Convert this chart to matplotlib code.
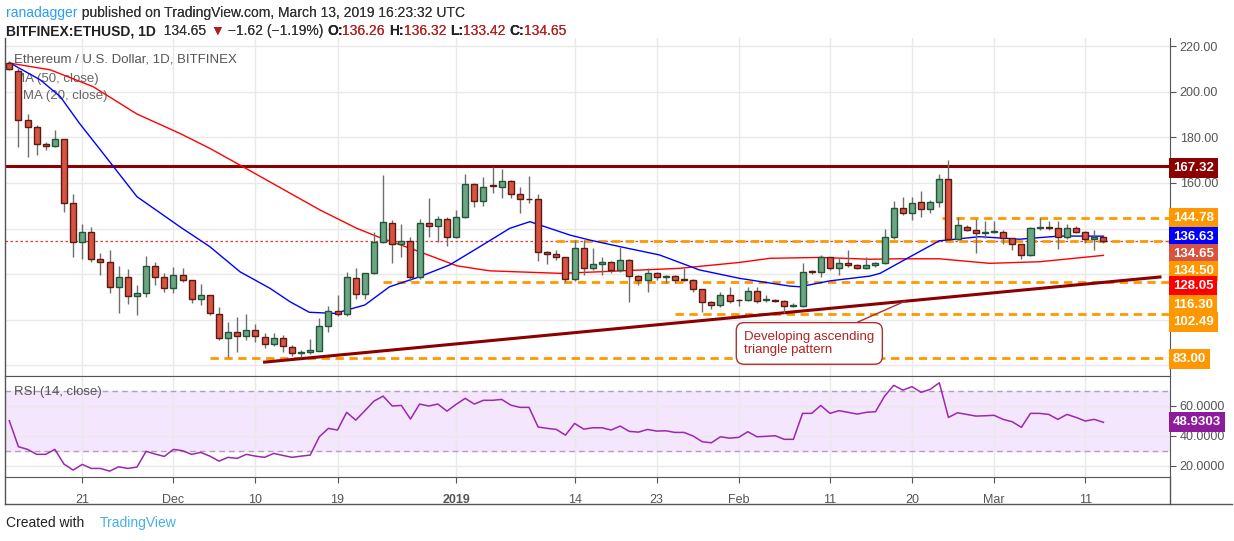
import matplotlib
matplotlib.use("Agg")
import matplotlib.pyplot as plt
import numpy as np

opens = [212.9,209,187.7,184.5,177,176.1,179.2,151.1,133.9,138.3,126.5,125.1,114.5,118.5,110.5,111.5,123.6,118.5,113.7,119.4,
 117.2,109.2,110.6,102.3,91.7,94.6,92.9,95.6,92.2,89.1,91.7,88,85.4,85.6,86.3,97.1,103.9,102.3,118.1,111.1,
 120.3,133.9,142.3,133,134.5,118.5,142.3,141,144,136.1,144.9,159.4,152.3,159,158.4,160.8,155.1,152.9,152.8,129.5,
 128.7,127.3,117.7,131.3,122.5,124.3,125.3,121.9,126.2,119.2,117.4,120.3,118.7,119,117.4,117.4,113.3,107.6,106.3,110.7,
 108.5,108.5,112.4,108.5,108.3,108.2,106,106,121.2,121,127.3,122.5,124.8,123.8,122.6,123.9,124.8,136.1,148.9,146.7,
 151.5,148.6,151.5,161.6,135.3,140.8,139.3,138.1,138.4,138.5,135.7,133.1,128.2,140.3,140.5,140.1,136.1,140.1,138.5,135.3,136.26]
highs = [213.5,211,190.3,185.5,178.2,183.3,179.5,155.2,142,140.5,129.1,130.6,123.5,122.1,115.2,127.9,125.4,120.3,122.9,122.5,
 117.5,115.6,111,105.6,99.1,101,102.4,98,93.9,93.9,93.2,89,86.5,91.4,100.5,106.1,110.8,120.7,122.5,120.6,
 138.6,163.5,143.7,142,136.1,144,153.3,145.5,145,148.1,163.9,160,162.5,167.2,166,161.2,158.4,163.1,155.2,130,
 130.5,127.5,134.9,134.9,131.3,127.3,125.8,132,126.8,119.6,122.5,121,119.5,119.5,122.5,117.7,113.6,108,112.2,114.4,
 109,114.4,114.4,110.8,109,108.5,107.1,124.7,121.8,128.2,127.6,126.9,130.5,124.2,127.3,125.5,139.6,152.2,153.7,154,
 156.5,152.5,163.9,170.1,145.2,141.5,144,143.4,143.4,139.3,136,133.4,140.8,144.5,143.4,143.4,142,141.1,139,139.3,136.32]
lows = [209.5,175.7,171.6,172.3,174.5,176,147.4,127.3,126.4,125.4,119.6,111.5,103,106.8,102,110,115.2,111.9,111.8,116.3,
 107.1,106.6,102,91,83.4,85.9,91,90.3,87.3,88.3,85.9,84,83.7,85,86,94.6,101.7,101.7,108.9,109.2,
 120,133.5,124.7,127.6,117.1,117.7,136.4,134.2,132.3,135.7,144.5,149.6,150,155.5,153.3,153.3,146.7,151.4,125.9,124.4,
 126.1,116.6,117,119.6,121.8,119.6,120.3,121,107.8,115.2,112.2,117.4,115.9,115.9,117,112.2,103.4,104.5,105.3,107.4,
 105.9,108,107.1,107.8,107.5,102.7,105.5,105.5,120,118.5,121.8,119.6,123.3,122,122,123,124.5,135.5,145.9,143.7,
 145.2,146.7,149.3,135,135,139,129.1,135.7,138,133.2,130.5,126.4,128,139.5,139.5,131,135.5,138,133.8,130.5,133.42]
closes = [210,187.7,184.5,177.1,176.1,179.2,151.1,133.9,138.3,126.5,125.1,114.5,118.5,110.5,111.5,123.6,118.5,113.7,119.4,117.2,
 108.9,110.6,102.7,91.7,94.6,92.9,95.6,92.7,89.1,91.7,88.4,85.1,85.6,86.6,97.1,103.9,102.3,118.5,111.1,120.3,
 133.9,142.7,133,134.5,118.5,142.3,141,144,136.1,144.9,159.4,152.3,158.4,158.5,160.8,155.1,152.9,152.8,129.5,128.7,
 127.3,117.7,131.3,122.5,124.3,125.3,121.9,126.2,119.2,117.4,120.3,118.5,118.9,117.4,117.3,113.3,107.6,106.3,110.7,108.3,
 108.4,112.4,108.3,108.6,108.2,105.8,106.1,121,121,127.3,122.5,124.8,123.8,122.6,123.9,124.8,136.1,148.9,146.7,151.3,
 148.6,151.5,161.6,135.3,141.4,139.3,137.9,138.2,138.5,135.7,133.1,128.2,140.1,140.5,140.1,136.1,140.1,138.5,135.3,136.1,134.65]

ma50_x = [0,4.5,9.2,14,18.7,22,25.6,30.8,34.1,36.3,38.1,40.6,45,49.1,52.7,60.4,64.8,73.5,80.1,83.4,88.9,94.4,97.7,102,107.5,113,120]
ma50_y = [212.7,209.7,202.3,190.3,181.8,175.2,167.2,155.5,148.1,143.7,140.1,136.1,129.8,123.6,121.4,120.3,121,122.5,125.1,126.9,127.3,126.5,126.7,126.7,124.7,125.4,128.2]
ema20_x = [0,3.4,5.6,7.7,10,14,18.7,22,25.3,28.6,30.8,32.9,35.7,39,41.7,45,48.3,51.6,54.9,57.1,61.5,63.7,67,71.3,75.7,80.1,85.6,86.7,90,94.4,95.5,98.8,102,106.4,110.8,115.2,120]
ema20_y = [212.9,205.3,197.9,186.2,174.5,154,140.8,132,121,113.7,107.8,103.2,102.7,106.4,114.4,118.8,124,132,140.1,143,137.1,134.9,132,128.4,121.8,118.1,114.7,114.4,117,119.1,120.3,127.6,134.6,136.4,135.3,136.7,136.63]

rsi = [50,32.7,30.9,27.6,27.6,30.9,21.1,17.1,20.9,18.2,18.2,16.4,19.3,18.2,19.1,29.6,27.8,26.2,30.9,30,
 27.6,28.9,26.4,23.1,25.6,24.9,27.6,26.4,25.6,28.2,26.9,25.6,26.4,27.1,39.3,44.9,43.8,55.6,50.4,56.7,
 63.1,66.4,59.8,60.2,51.1,61.1,59.8,61.1,56.4,60.9,64.9,61.1,63.6,63.6,64.2,60.4,58.9,58.9,45.8,44.9,
 44.2,40.4,48.2,44.4,45.3,45.3,43.8,46.4,42.9,42.4,44.2,43.1,43.3,42.2,42.2,39.8,36,35.3,39.3,38.4,
 38.9,42.7,39.3,39.6,40,37.6,37.6,54.9,54.9,60.2,54.9,56.7,55.6,54.4,55.6,56,66.4,73.6,70.4,72.7,
 68.9,70.9,75.3,52.2,55.3,54.2,53.1,53.3,53.6,50.9,49.3,45.6,54.9,54.9,54.2,50.9,54.2,52.2,49.8,50.9,48.93]

date_ticks = [8,18,27,36,49,62,71,80,90,99,108,118]
date_labels = ["21","Dec","10","19","2019","14","23","Feb","11","20","Mar","11"]

resistance = 167.32
levels = [144.78, 134.50, 116.30, 102.49, 83.00]
level_start = [102.3, 60, 41, 73, 22]
trend_x = [28.0, 126.2]
trend_y = [81.3, 118.7]

UP, UPE = "#6ba583", "#225437"
DN, DNE = "#d75442", "#5b1a13"
GRID = "#e9e9e9"

fig = plt.figure(figsize=(12.34, 5.41), dpi=100)
plt.rcParams['font.family'] = ['Liberation Sans', 'DejaVu Sans']
ax = fig.add_axes([5/1234, (541-376)/541, 1165/1234, 338/541])
ar = fig.add_axes([5/1234, (541-477)/541, 1165/1234, 101/541], sharex=ax)

x = np.arange(len(closes))
o = np.array(opens); c = np.array(closes); h = np.array(highs); l = np.array(lows)
up = c >= o
cols = np.where(up, UP, DN); ecs = np.where(up, UPE, DNE)
ax.vlines(x, l, h, color="#6f6f6f", lw=1, zorder=3)
body_b = np.minimum(o, c); body_h = np.maximum(np.abs(c - o), 0.35)
ax.bar(x, body_h, bottom=body_b, width=0.66, color=cols, edgecolor=ecs, linewidth=1, zorder=4)

ax.plot(ma50_x, ma50_y, color="#ff0000", lw=1, zorder=2.5)
ax.plot(ema20_x, ema20_y, color="#0000ff", lw=1, zorder=2.5)
ax.axhline(resistance, color="#8b0000", lw=2.2, zorder=2)
ax.axhline(closes[-1], color="#e53935", lw=0.9, ls=(0, (2, 2)), zorder=2)
for lv, st in zip(levels, level_start):
    ax.hlines(lv, st, 128, color="#ff9800", lw=2, ls=(0, (3, 2)), zorder=2)
ax.plot(trend_x, trend_y, color="#8b0000", lw=2.2, zorder=2.6)

xmin, xmax = -0.47, 127.3
ax.set_xlim(xmin, xmax)
ax.set_ylim(75.2, 223.7)
ax.set_yticks([80, 100, 120, 140, 160, 180, 200, 220])
ax.set_xticks(date_ticks)
ax.grid(True, color=GRID, lw=1)
ax.set_axisbelow(True)
ax.yaxis.tick_right()
ax.tick_params(axis='x', length=0, labelbottom=False)
ax.tick_params(axis='y', length=4, color="#555", labelsize=9, labelcolor="#555", pad=3)
ax.set_yticklabels(["", "", "", "", "160.00", "180.00", "200.00", "220.00"])
for s in ["top", "left"]:
    ax.spines[s].set_visible(False)
ax.spines["right"].set_color("#555"); ax.spines["bottom"].set_color("#555")

ax.text(0.008, 0.935, "Ethereum / U.S. Dollar, 1D, BITFINEX", transform=ax.transAxes, fontsize=9.5, color="#555", zorder=1, va="center")
ax.text(0.008, 0.879, "MA (50, close)", transform=ax.transAxes, fontsize=9.5, color="#666", zorder=1, va="center")
ax.text(0.008, 0.829, "EMA (20, close)", transform=ax.transAxes, fontsize=9.5, color="#666", zorder=1, va="center")

ax.annotate("Developing ascending\ntriangle pattern", xy=(98.2, 108.0), xytext=(80.6, 89.5),
            fontsize=9.5, color="#b22222", ha="left", va="center", zorder=6,
            bbox=dict(boxstyle="round,pad=0.6,rounding_size=0.6", fc="white", ec="#a83232", lw=1),
            arrowprops=dict(arrowstyle="-", color="#a83232", lw=1, shrinkA=0, shrinkB=0))

# right labels
lab_y = [166.5, 144.5, 136.3, 128.7, 121.4, 114.9, 106.4, 98.9, 82.6]
lab_t = ["167.32", "144.78", "136.63", "134.65", "134.50", "128.05", "116.30", "102.49", "83.00"]
lab_c = ["#8b0000", "#ff9800", "#0000ff", "#d75442", "#ff9800", "#ff0000", "#ff9800", "#ff9800", "#ff9800"]
for yy, tt, cc in zip(lab_y, lab_t, lab_c):
    ax.text(1.0025, yy, tt, transform=ax.get_yaxis_transform(), fontsize=9.5, color="white",
            fontweight="bold", va="center", ha="left", zorder=7, clip_on=False,
            bbox=dict(boxstyle="square,pad=0.3", fc=cc, ec="none"))

# RSI
ar.axhspan(30, 70, color="#f3e6fd", zorder=0)
ar.axhline(70, color="#b0a0b8", lw=1, ls=(0, (4, 3)))
ar.axhline(30, color="#b0a0b8", lw=1, ls=(0, (4, 3)))
ar.plot(x, rsi, color="#9c27b0", lw=1.1, zorder=3)
ar.set_ylim(12.5, 79.8)
ar.set_yticks([20, 40, 60])
ar.set_yticklabels(["20.0000", "40.0000", "60.0000"])
ar.yaxis.tick_right()
ar.tick_params(axis='y', length=4, color="#555", labelsize=9, labelcolor="#555", pad=3)
ar.set_xticks(date_ticks)
ar.set_xticklabels(date_labels)
ar.tick_params(axis='x', length=4, color="#555", labelsize=9, labelcolor="#555", pad=8)
for lab in ar.get_xticklabels():
    if lab.get_text() == "2019":
        lab.set_fontweight("bold")
ar.grid(True, color=GRID, lw=1)
ar.set_axisbelow(True)
ar.spines["top"].set_color("#555"); ar.spines["bottom"].set_color("#555"); ar.spines["right"].set_color("#555")
ar.spines["left"].set_visible(False)
ar.text(0.008, 0.84, "RSI (14, close)", transform=ar.transAxes, fontsize=9.5, color="#555", va="center")
ar.text(1.0025, rsi[-1], "48.9303", transform=ar.get_yaxis_transform(), fontsize=9.5, color="white",
        fontweight="bold", va="center", ha="left", clip_on=False,
        bbox=dict(boxstyle="square,pad=0.3", fc="#8e1a9c", ec="none"))

fig.add_artist(plt.Line2D([5/1234, 1232/1234], [(541-504)/541]*2, color="#555", lw=1))
fig.add_artist(plt.Line2D([5/1234, 5/1234], [(541-504)/541, (541-38)/541], color="#555", lw=1))
fig.add_artist(plt.Line2D([1170/1234, 1170/1234], [(541-504)/541, (541-477)/541], color="#555", lw=1))

# header
t1 = fig.text(6/1234, 1-13/541, "ranadagger", fontsize=10, color="#2a9df4", va="center")
a = plt.annotate(" published on TradingView.com, March 13, 2019 16:23:32 UTC", xy=(1, 0.5), xycoords=t1,
                 va="center", fontsize=10, color="#333", annotation_clip=False)
fig.add_artist(a)
parts = [("BITFINEX:ETHUSD, 1D", "#222", "bold"), ("  134.65 ", "#333", "normal"), ("▼", "#b71c1c", "normal"),
         (" −1.62 (−1.19%) ", "#333", "normal"), ("O:", "#222", "bold"), ("136.26 ", "#b71c1c", "normal"),
         ("H:", "#222", "bold"), ("136.32 ", "#b71c1c", "normal"), ("L:", "#222", "bold"),
         ("133.42 ", "#b71c1c", "normal"), ("C:", "#222", "bold"), ("134.65", "#b71c1c", "normal")]
prev = fig.text(6/1234, 1-31/541, parts[0][0], fontsize=10, color=parts[0][1], fontweight=parts[0][2], va="center")
for txt, col, w in parts[1:]:
    an = plt.annotate(txt, xy=(1, 0.5), xycoords=prev, va="center", fontsize=10, color=col, fontweight=w,
                      annotation_clip=False)
    fig.add_artist(an)
    prev = an

fig.text(6/1234, 1-523/541, "Created with", fontsize=10, color="#222", va="center")
fig.text(100/1234, 1-523/541, "TradingView", fontsize=10, color="#45b0e6", va="center")

fig.savefig("out.png", dpi=100)
